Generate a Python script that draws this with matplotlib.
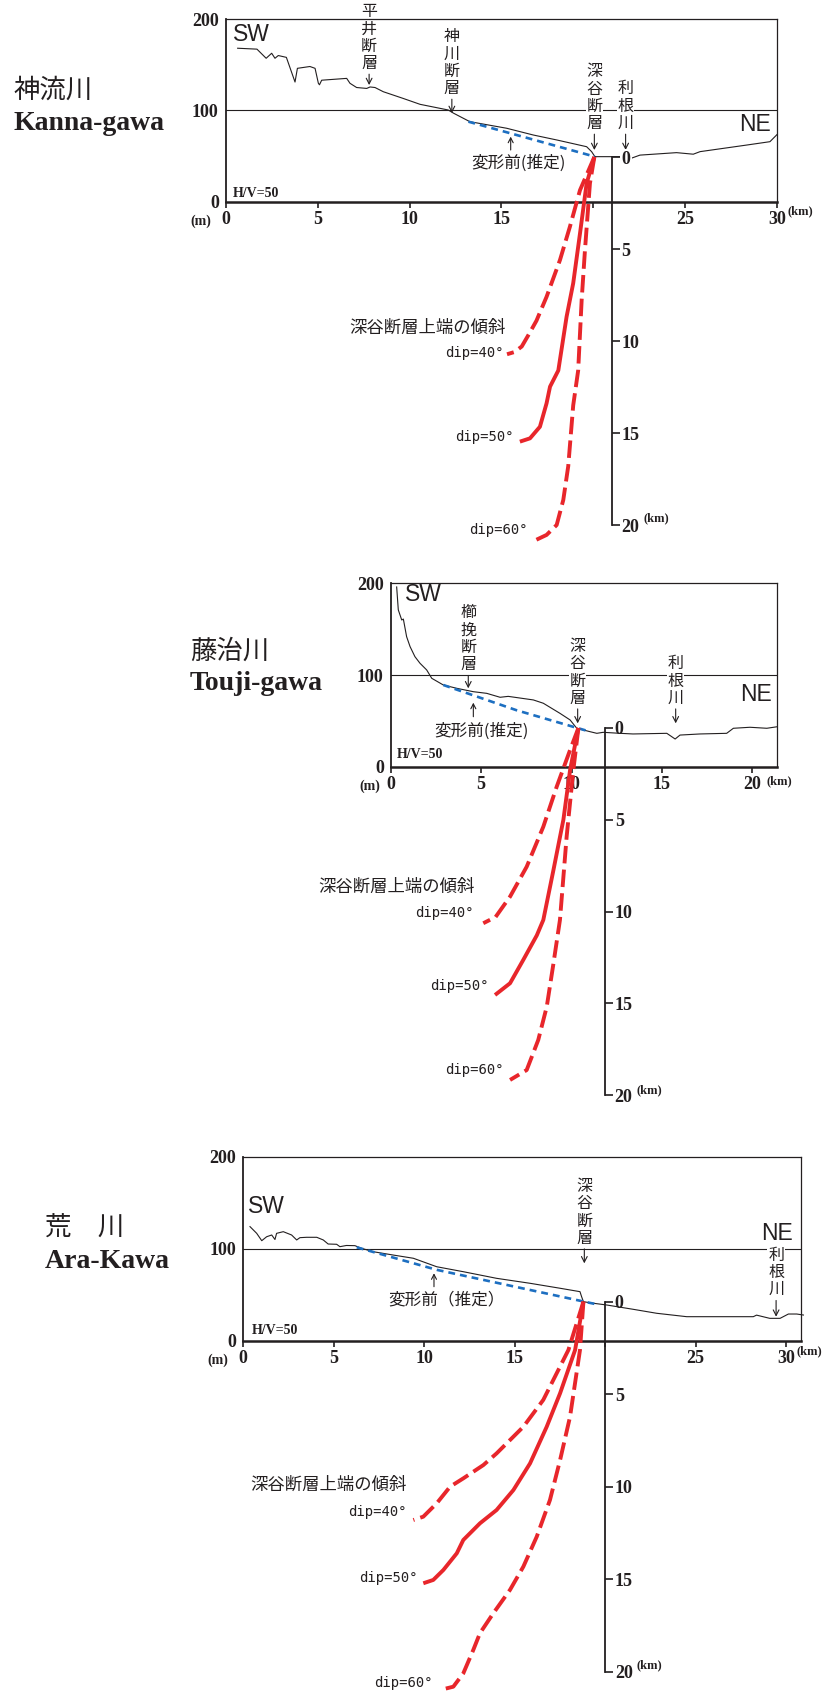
import matplotlib.pyplot as plt

plt.rcParams['font.family'] = ['Noto Sans CJK JP', 'DejaVu Sans']

W, H = 836, 1695
INK = '#231f20'
RED = '#e8262b'
BLUE = '#1d6fc1'
SERIF = 'Liberation Serif'
SANS = 'Liberation Sans'
MONO = 'DejaVu Sans Mono'

# ---------------- 神流川 Kanna-gawa : distance (km) / elevation (m)
kanna_x = [0.65, 1.7, 2.2, 2.5, 2.68, 2.86, 3.3, 3.77, 3.9, 4.58, 4.86, 5.04, 5.1, 5.22,
           6.58, 6.76, 7.12, 7.67, 7.85, 8.12, 8.57, 9.66, 10.57, 12.1, 12.4, 13.28,
           15.28, 16.73, 18.0, 19.63, 19.9, 20.08, 21.44, 21.6, 21.8, 22.53, 24.52,
           25.43, 25.8, 28.33, 29.6, 30.0]
kanna_z = [168, 167, 157, 162.5, 157, 160, 158, 131, 146, 148, 146, 129.6, 128, 133,
           135, 129.6, 125, 124, 125.6, 125, 120.4, 113, 106.6, 100.4, 96.8, 87.6,
           80.4, 73, 67.6, 60.2, 54.8, 49.3, 49.3, 51, 45.7, 51, 53.7,
           52, 54.8, 62, 65.7, 73.8]
kanna_pre_x = [13.2, 20.08]
kanna_pre_z = [87.6, 49.3]
# fault traces: distance (km) / depth (km)
kanna_dip40 = ([20.05, 19.27, 18.72, 18.18, 17.45, 16.9, 16.45, 16.1, 15.7, 15.3],
               [0, 1.8, 3.79, 5.6, 7.6, 8.9, 9.7, 10.3, 10.6, 10.72])
kanna_dip50 = ([20.05, 19.63, 19.27, 18.9, 18.54, 18.09, 17.64, 17.45, 17.09, 16.55, 16.0],
               [0, 1.43, 4.15, 6.86, 8.68, 11.6, 12.48, 13.39, 14.66, 15.29, 15.47])
kanna_dip60 = ([20.05, 19.81, 19.54, 19.36, 19.17, 18.9, 18.63, 18.36, 18.0, 17.45, 16.9],
               [0, 1.43, 5.05, 7.77, 11.6, 13.5, 16.8, 18.64, 20.0, 20.54, 20.8])

# ---------------- 藤治川 Touji-gawa
touji_x = [0.33, 0.42, 0.61, 0.7, 0.88, 1.07, 1.34, 1.62, 1.99, 2.27, 2.91, 3.65, 4.57,
           5.31, 6.05, 6.5, 7.89, 8.44, 9.36, 9.92, 10.29, 11.02, 11.4, 11.75, 12.68,
           13.4, 15.27, 15.73, 16.0, 17.1, 18.58, 18.95, 19.87, 20.8, 21.38]
touji_z = [196, 171, 160, 161, 141.8, 131, 120, 112.8, 105.5, 96.4, 89.1, 85.5, 81.8,
           80, 75.7, 76.7, 72.8, 69.2, 58.2, 51, 41.9, 38.2, 36.4, 37.5, 36.4,
           35.7, 36.4, 30.2, 34.5, 35.7, 36.4, 41.9, 43, 41.9, 43.6]
touji_pre_x = [2.91, 6.97, 11.02]
touji_pre_z = [89.1, 61.5, 38.2]
touji_dip40 = ([10.38, 9.92, 9.18, 8.44, 7.52, 6.6, 5.8, 5.12],
               [0, 1.2, 3.2, 5.38, 7.56, 9.19, 10.3, 10.64])
touji_dip50 = ([10.38, 9.92, 9.55, 9.0, 8.44, 8.08, 7.33, 6.6, 5.77],
               [0, 2.29, 5.0, 7.74, 10.46, 11.3, 12.64, 13.91, 14.55])
touji_dip60 = ([10.38, 10.1, 9.73, 9.36, 8.99, 8.63, 8.16, 7.52, 6.6],
               [0, 2.29, 5.92, 10.46, 12.9, 15.19, 17.0, 18.64, 19.18])

# ---------------- 荒川 Ara-Kawa
ara_x = [0.37, 0.74, 1.02, 1.29, 1.57, 1.75, 1.84, 2.21, 2.67, 2.95, 3.13, 3.5, 4.06,
         4.42, 4.69, 5.16, 5.34, 5.7, 6.17, 6.54, 7.19, 8.29, 9.4, 10.69, 12.16, 14.0,
         15.85, 17.51, 18.61, 18.7, 18.8, 19.35, 20.09, 21.56, 22.85, 24.51, 26.17,
         28.19, 28.37, 29.1, 29.67, 30.13, 30.59, 30.96]
ara_z = [124, 116.7, 108.7, 113, 114.9, 110, 116.7, 118.5, 114.9, 109.5, 112, 112.4, 112.4,
         109.5, 105.1, 104.8, 102.2, 103.5, 103.3, 100.4, 96.7, 93.1, 89.6, 80.4, 75, 67.8,
         62.4, 57, 53.3, 47.8, 42.4, 40.7, 38.8, 34.1, 29.8, 26.1, 26.1,
         26.1, 27.8, 24.3, 24.3, 29, 29, 27.9]
ara_pre_x = [6.27, 10.7, 19.54]
ara_pre_z = [101.5, 77, 39.5]
ara_dip40 = ([18.8, 17.97, 16.58, 15.48, 14.0, 13.27, 12.16, 11.43, 10.69, 9.95, 9.4],
             [0, 2.61, 5.31, 6.76, 8.2, 8.83, 9.55, 10.0, 10.9, 11.62, 11.8])
ara_dip50 = ([18.8, 18.34, 17.51, 16.77, 15.85, 14.93, 14.0, 13.08, 12.16, 11.8, 11.06, 10.5, 9.95],
             [0, 2.61, 4.95, 6.76, 8.74, 10.18, 11.26, 11.98, 12.88, 13.6, 14.5, 15.04, 15.22])
ara_dip60 = ([18.8, 18.61, 18.06, 17.51, 16.95, 16.22, 15.48, 14.74, 13.82, 13.08, 12.71, 12.16, 11.61, 10.87],
             [0, 2.61, 6.22, 8.56, 10.72, 12.7, 14.32, 15.58, 16.84, 17.92, 18.83, 20.09, 20.81, 20.99])

depth_ticks = [0, 5, 10, 15, 20]
elev_ticks = [0, 100, 200]


def rect(left, top, right, bottom):
    # pixel box -> figure fraction
    return [left / W, 1 - bottom / H, (right - left) / W, (bottom - top) / H]


def bold_serif(size):
    return dict(fontfamily=SERIF, fontweight='bold', fontsize=size, color=INK)


def profile_axes(fig, box, xmax, xticks, xlabels):
    ax = fig.add_axes(rect(*box))
    ax.set_xlim(0, xmax)
    ax.set_ylim(0, 200)
    ax.set_xticks(xticks)
    ax.set_xticklabels(xlabels, **bold_serif(13))
    ax.set_yticks(elev_ticks)
    ax.set_yticklabels([str(v) for v in elev_ticks], **bold_serif(13))
    ax.tick_params(axis='x', direction='out', length=4, width=1.2, pad=2.5, color=INK)
    ax.tick_params(axis='y', length=0, pad=5)
    for side, lw in [('top', 0.9), ('right', 0.9), ('left', 1.3), ('bottom', 1.8)]:
        ax.spines[side].set_linewidth(lw)
        ax.spines[side].set_color(INK)
    ax.axhline(100, color=INK, lw=0.8, zorder=1)
    ax.text(-xmax * 0.027, -21.5, '(m)', ha='right', va='center', clip_on=False,
            **bold_serif(10))
    return ax


def depth_axes(fig, box, xmax, x0):
    axd = fig.add_axes(rect(*box))
    axd.patch.set_visible(False)
    axd.set_xlim(0, xmax)
    axd.set_ylim(20, 0)
    axd.set_xticks([])
    for side in ('top', 'bottom', 'left'):
        axd.spines[side].set_visible(False)
    axd.spines['right'].set_position(('data', x0))
    axd.spines['right'].set_linewidth(1.3)
    axd.spines['right'].set_color(INK)
    axd.yaxis.tick_right()
    axd.set_yticks(depth_ticks)
    axd.set_yticklabels([str(v) for v in depth_ticks], **bold_serif(13))
    axd.tick_params(axis='y', direction='out', length=6, width=1.2, pad=1, color=INK)
    return axd


def draw_profile(ax, x, z, pre_x, pre_z):
    ax.plot(x, z, color=INK, lw=0.8, zorder=3, clip_on=False)
    ax.plot(pre_x, pre_z, color=BLUE, lw=1.9, dashes=(2.6, 1.9), zorder=4)


def draw_faults(axd, dip40, dip50, dip60):
    axd.plot(*dip40, color=RED, lw=2.8, dashes=(4.5, 1.6), clip_on=False, zorder=5)
    axd.plot(*dip50, color=RED, lw=2.8, clip_on=False, zorder=5, solid_capstyle='butt')
    axd.plot(*dip60, color=RED, lw=2.8, dashes=(4.5, 1.6), clip_on=False, zorder=5)


def fault_labels(axd, head, d40, d50, d60):
    axd.text(*head, '深谷断層上端の傾斜', ha='center', va='center', fontsize=12.5, color=INK)
    for pos, txt in [(d40, 'dip=40°'), (d50, 'dip=50°'), (d60, 'dip=60°')]:
        axd.text(*pos, txt, ha='right', va='center', fontfamily=MONO, fontsize=10, color=INK)


def vlabel(ax, text, x, y_text, y_tip):
    # vertical (one character per line) label with a down arrow
    ax.annotate('\n'.join(text), xy=(x, y_tip), xytext=(x, y_text),
                ha='center', va='bottom', fontsize=11.5, linespacing=1.02, color=INK,
                bbox=dict(boxstyle='square,pad=0.05', fc='white', ec='none'),
                arrowprops=dict(arrowstyle='->,head_length=0.35,head_width=0.18',
                                lw=0.8, color=INK, shrinkA=1, shrinkB=0), zorder=2)


def pre_label(ax, text, x, y, ax_x, y0, y1):
    ax.text(x, y, text, ha='center', va='center', fontsize=12, color=INK)
    ax.annotate('', xy=(ax_x, y1), xytext=(ax_x, y0),
                arrowprops=dict(arrowstyle='->,head_length=0.35,head_width=0.18',
                                lw=0.8, color=INK, shrinkA=0, shrinkB=0))


def title(fig, left, y_jp, y_en, jp, en):
    fig.text(left / W, 1 - y_jp / H, jp, ha='left', va='center', fontsize=19, color=INK)
    fig.text(left / W, 1 - y_en / H, en, ha='left', va='center', **bold_serif(20))


def side_tags(ax, sw, ne):
    ax.text(*sw, 'SW', ha='left', va='center', fontfamily=SANS, fontsize=16.5, color=INK)
    ax.text(*ne, 'NE', ha='right', va='center', fontfamily=SANS, fontsize=16.5, color=INK)


fig = plt.figure(figsize=(W / 100, H / 100), dpi=100)

# ---- Kanna-gawa
ax1 = profile_axes(fig, (225.7, 19, 777.3, 201.7), 30, [0, 5, 10, 15, 20, 25, 30],
                   ['0', '5', '10', '15', '', '25', '30'])
draw_profile(ax1, kanna_x, kanna_z, kanna_pre_x, kanna_pre_z)
side_tags(ax1, (0.4, 182.5), (29.64, 84))
ax1.text(0.36, 9.2, 'H/V=50', ha='left', va='center', **bold_serif(10))
ax1.text(30.58, -10.9, '(km)', ha='left', va='center', clip_on=False, **bold_serif(9))
vlabel(ax1, '平井断層', 7.8, 142, 127.7)
vlabel(ax1, '神川断層', 12.3, 114.6, 97.1)
vlabel(ax1, '深谷断層', 20.05, 76.3, 56.6)
vlabel(ax1, '利根川', 21.75, 76.3, 56.6)
pre_label(ax1, '変形前(推定)', 15.9, 42, 15.5, 56.6, 71.2)

axd1 = depth_axes(fig, (225.7, 157, 777.3, 525), 30, 21.0)
axd1.get_yticklabels()[0].set_bbox(dict(boxstyle='square,pad=0.1', fc='white', ec='none'))
axd1.text(22.75, 19.64, '(km)', ha='left', va='center', **bold_serif(9))
draw_faults(axd1, kanna_dip40, kanna_dip50, kanna_dip60)
fault_labels(axd1, (10.97, 9.27), (15.1, 10.67), (15.69, 15.24), (16.45, 20.26))
title(fig, 13, 90, 123, '神流川', 'Kanna-gawa')

# ---- Touji-gawa
ax2 = profile_axes(fig, (390.7, 583.3, 777.3, 766.7), 21.38, [0, 5, 10, 15, 20],
                   ['0', '5', '10', '15', '20'])
draw_profile(ax2, touji_x, touji_z, touji_pre_x, touji_pre_z)
side_tags(ax2, (0.79, 187.3), (21.07, 78.2))
ax2.text(0.33, 12.8, 'H/V=50', ha='left', va='center', **bold_serif(10))
ax2.text(20.8, -16.4, '(km)', ha='left', va='center', clip_on=False, **bold_serif(9))
vlabel(ax2, '櫛挽断層', 4.29, 101.9, 85.5)
vlabel(ax2, '深谷断層', 10.34, 65.4, 47.3)
vlabel(ax2, '利根川', 15.76, 65.4, 47.3)
pre_label(ax2, '変形前(推定)', 5.03, 38.2, 4.57, 54.5, 69.8)

axd2 = depth_axes(fig, (390.7, 728, 777.3, 1095), 21.38, 11.85)
axd2.text(13.6, 19.73, '(km)', ha='left', va='center', **bold_serif(9))
draw_faults(axd2, touji_dip40, touji_dip50, touji_dip60)
fault_labels(axd2, (0.33, 8.65), (4.6, 10.1), (5.45, 14.06), (6.27, 18.64))
title(fig, 190, 651.7, 683, '藤治川', 'Touji-gawa')

# ---- Ara-Kawa
ax3 = profile_axes(fig, (243.3, 1156.7, 800.7, 1340.7), 30.81, [0, 5, 10, 15, 20, 25, 30],
                   ['0', '5', '10', '15', '', '25', '30'])
draw_profile(ax3, ara_x, ara_z, ara_pre_x, ara_pre_z)
side_tags(ax3, (0.26, 145.7), (30.35, 117))
ax3.text(0.46, 10.9, 'H/V=50', ha='left', va='center', **bold_serif(10))
ax3.text(30.59, -12, '(km)', ha='left', va='center', clip_on=False, **bold_serif(9))
vlabel(ax3, '深谷断層', 18.85, 102.2, 84.1)
vlabel(ax3, '利根川', 29.45, 46.1, 26.1)
pre_label(ax3, '変形前（推定）', 11.24, 44.2, 10.54, 58.7, 73.3)

axd3 = depth_axes(fig, (243.3, 1301.7, 800.7, 1671.7), 30.81, 20.0)
axd3.text(21.75, 19.64, '(km)', ha='left', va='center', **bold_serif(9))
draw_faults(axd3, ara_dip40, ara_dip50, ara_dip60)
fault_labels(axd3, (4.7, 9.91), (9.03, 11.35), (9.62, 14.95), (10.47, 20.63))
title(fig, 45, 1228, 1261.7, '荒\u3000川', 'Ara-Kawa')

fig.savefig('out.png', dpi=100)
